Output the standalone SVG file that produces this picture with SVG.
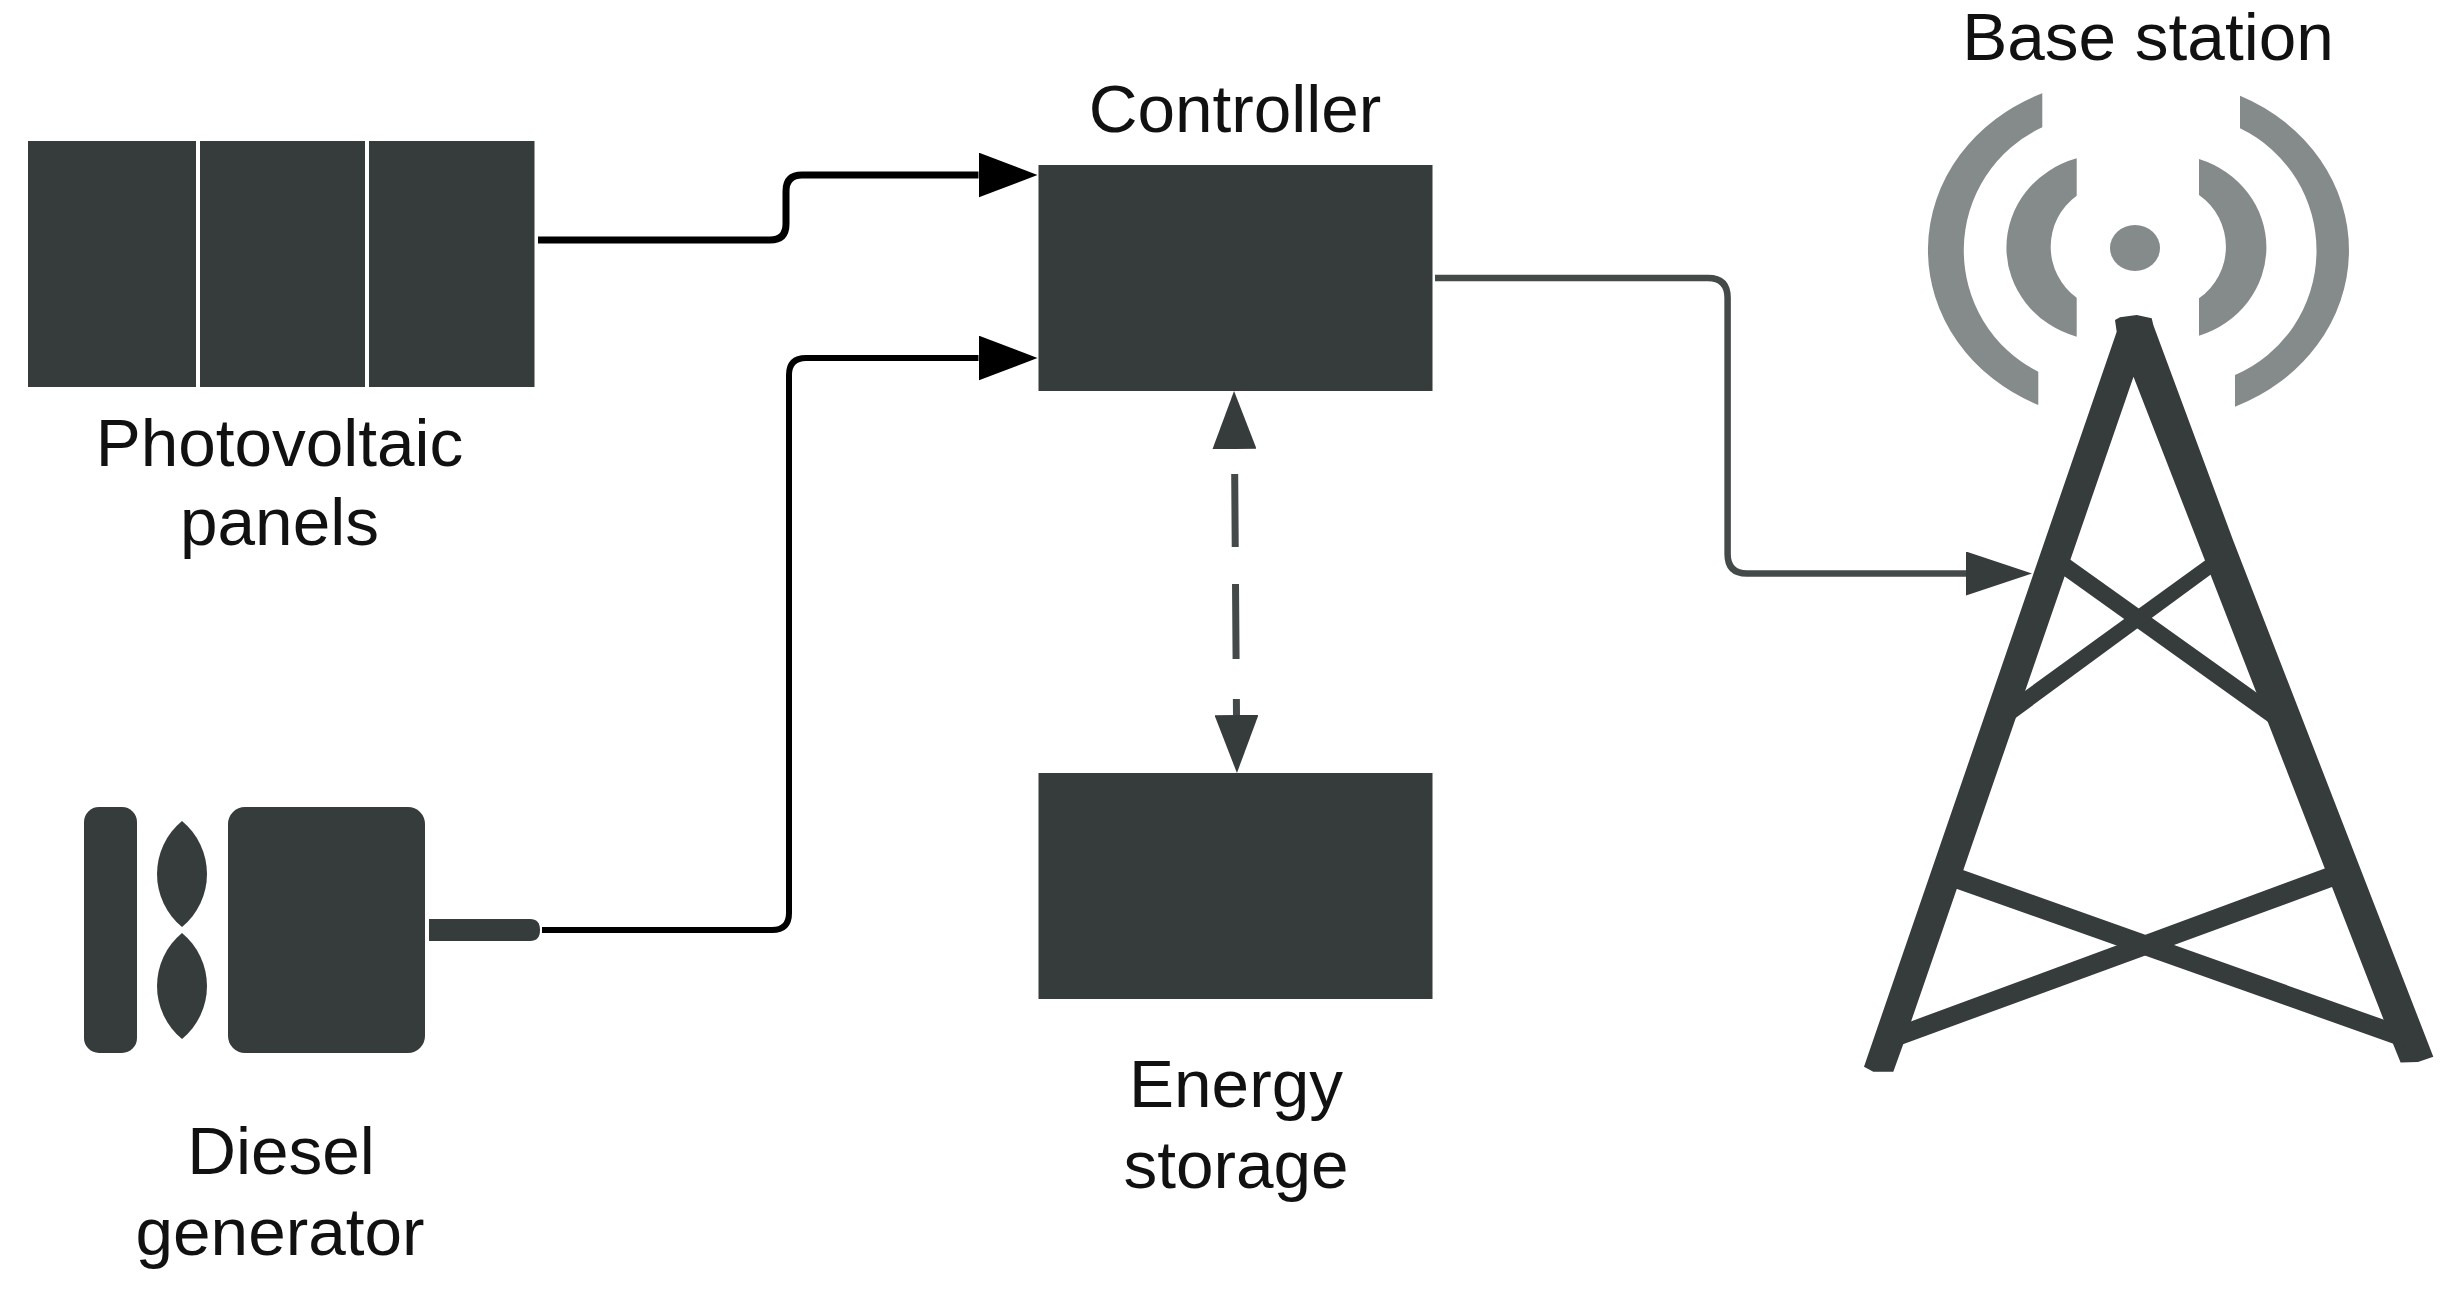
<svg xmlns="http://www.w3.org/2000/svg" width="2459" height="1295" viewBox="0 0 2459 1295">
<style>
.dark{fill:#363b3b}
.sig{fill:#858a8a}
.lbl{font-family:"Liberation Sans",Arial,sans-serif;font-size:67.5px;fill:#111;text-anchor:middle}
.wire{fill:none;stroke:#000;stroke-width:7}
.wire2{fill:none;stroke:#444a49;stroke-width:6.5}
</style>
<defs>
<marker id="headBlack" markerUnits="userSpaceOnUse" markerWidth="59" markerHeight="45" refX="0" refY="22.5" orient="auto"><path d="M0 0L59 22.5L0 45Z" fill="#000"/></marker>
<marker id="headDark" markerUnits="userSpaceOnUse" markerWidth="66" markerHeight="44" refX="0" refY="22" orient="auto"><path d="M0 0L66 22L0 44Z" fill="#363b3b"/></marker>
<marker id="headDash" markerUnits="userSpaceOnUse" markerWidth="58" markerHeight="44" refX="0" refY="22" orient="auto-start-reverse"><path d="M0 0L58 22L0 44Z" fill="#363b3b"/></marker>
</defs>
<rect width="2459" height="1295" fill="#fff"/>
<g id="connectors">
<path class="wire" marker-end="url(#headBlack)" d="M538 240H770Q786 240 786 224V191Q786 175 802 175H978.500"/>
<path class="wire" style="stroke-width:6" marker-end="url(#headBlack)" d="M542 930H772Q789 930 789 913V375Q789 358 806 358H978.500"/>
<path class="wire2" marker-end="url(#headDark)" d="M1435 278H1708Q1727.6 278 1727.6 298V554Q1727.6 573.500 1747 573.500H1966"/>
<path fill="none" stroke="#444a49" stroke-width="7" stroke-dasharray="0 25 73 37 75 40 20" marker-start="url(#headDash)" marker-end="url(#headDash)" d="M1234.500 449L1236.500 715"/>
</g>
<g id="photovoltaic-panels">
<rect class="dark" x="28" y="141" width="168" height="246"/>
<rect class="dark" x="200" y="141" width="165" height="246"/>
<rect class="dark" x="369" y="141" width="165.500" height="246"/>
<text class="lbl" x="279.500" y="466">Photovoltaic</text>
<text class="lbl" x="279.500" y="545">panels</text>
</g>
<g id="diesel-generator">
<rect class="dark" x="84" y="807" width="53" height="246" rx="15"/>
<path class="dark" d="M182 821A68.700 68.700 0 0 1 182 927A68.700 68.700 0 0 1 182 821Z"/>
<path class="dark" d="M182 933A68.700 68.700 0 0 1 182 1039A68.700 68.700 0 0 1 182 933Z"/>
<rect class="dark" x="228" y="807" width="197" height="246" rx="17"/>
<path class="dark" d="M429 919H530Q540 919 540 930Q540 941 530 941H429Z"/>
<text class="lbl" x="281" y="1174">Diesel</text>
<text class="lbl" x="280" y="1255">generator</text>
</g>
<g id="controller">
<rect class="dark" x="1038.500" y="165" width="394" height="226"/>
<text class="lbl" x="1235" y="132">Controller</text>
</g>
<g id="energy-storage">
<rect class="dark" x="1038.500" y="773" width="394" height="226"/>
<text class="lbl" x="1236" y="1107">Energy</text>
<text class="lbl" x="1236" y="1188">storage</text>
</g>
<g id="base-station">
<text class="lbl" x="2148" y="60">Base station</text>
<ellipse class="sig" cx="2135" cy="248" rx="25" ry="23"/>
<path class="sig" d="M2042.300 93.300V127.300A133 135 0 0 0 2038.300 371.700V405A187 170 0 0 1 2042.300 93.300Z"/>
<path class="sig" d="M2240 95.700V128.300A133 135 0 0 1 2235 375V406.700A187 170 0 0 0 2240 95.700Z"/>
<path class="sig" d="M2076.700 158.300V195.700A63 63 0 0 0 2076.700 297.700V336.700A98 93 0 0 1 2076.700 158.300Z"/>
<path class="sig" d="M2199 159V195A63 63 0 0 1 2199 298.300V335.700A98 93 0 0 0 2199 159Z"/>
<path class="dark" d="M1864 1066.700L1873.300 1071.700L1893.300 1071.700L1903.300 1044L2133.500 376.700L2392.700 1043L2400.600 1062.600L2418 1062L2433.300 1056.800L2233 540L2153.300 325L2151.700 318.300L2136.700 315L2120 317.300L2115 320L2116.700 331.700Z"/>
<path class="dark" d="M2059.600 551.900L2268.400 701.100L2279.400 730.100L2053.600 568.400Z"/>
<path class="dark" d="M2216.400 552.300L2014.100 698.800L2004.300 726.200L2221.400 566.800Z"/>
<path class="dark" d="M1951 865.700L2396.800 1024.300L2406.800 1048.400L1943.700 884.300Z"/>
<path class="dark" d="M2337.600 863.800L1898.700 1025.900L1889.300 1049.200L2345.500 882.100Z"/>
</g>
</svg>
